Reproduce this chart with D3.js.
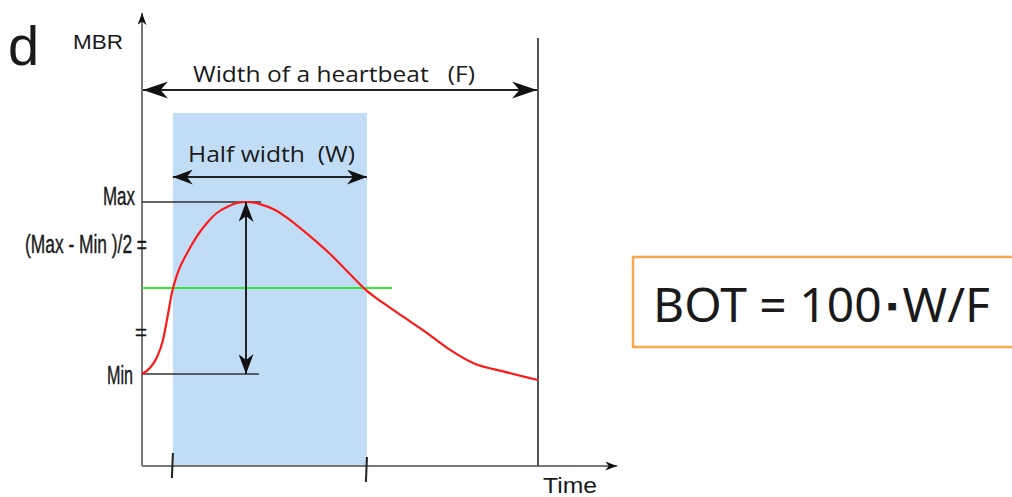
<!DOCTYPE html>
<html>
<head>
  <meta http-equiv="Content-Type" content="text/html; charset=UTF-8">
  <script src="https://d3js.org/d3.v7.min.js"></script>
  <style>
    body { margin:0; background:#fff; }
    svg { display:block; }
  </style>
</head>
<body>
  <svg width="1012" height="497"></svg>
  <script>
    // one heartbeat: time as fraction of the beat, MBR normalised (Min = 0, Max = 1)
    var beatTime = [0, 0.020, 0.038, 0.053, 0.063, 0.076, 0.091, 0.114, 0.139, 0.164, 0.189, 0.215, 0.240, 0.265,
                    0.298, 0.336, 0.374, 0.424, 0.475, 0.525, 0.568, 0.609, 0.664, 0.720, 0.778, 0.836, 0.917, 1.0];
    var beatMBR  = [0, 0.035, 0.099, 0.198, 0.314, 0.477, 0.593, 0.703, 0.802, 0.878, 0.936, 0.971, 0.994, 1.0,
                    0.988, 0.953, 0.895, 0.802, 0.698, 0.581, 0.483, 0.413, 0.326, 0.238, 0.140, 0.064, 0.012, -0.035];

    var halfStart = 0.078, halfEnd = 0.568;     // where the curve crosses the half level
    var beatEnd = 1.0;
    var mbrMin = 0, mbrMax = 1, mbrHalf = 0.5;
    var yLabels = ["Max", "(Max - Min )/2 =", "=", "Min"];

    var svg = d3.select("svg");

    var x = d3.scaleLinear().domain([0, 1]).range([142, 538]);
    var y = d3.scaleLinear().domain([0, 1]).range([374, 202]);

    var axisColor = "#777";

    // markers
    var defs = svg.append("defs");
    function marker(id, len, wid) {
      defs.append("marker")
          .attr("id", id)
          .attr("viewBox", "0 0 " + len + " " + wid)
          .attr("refX", len).attr("refY", wid / 2)
          .attr("markerWidth", len).attr("markerHeight", wid)
          .attr("markerUnits", "userSpaceOnUse")
          .attr("orient", "auto-start-reverse")
        .append("path")
          .attr("d", "M0,0L" + len + "," + (wid / 2) + "L0," + wid + "L" + (len * 0.3) + "," + (wid / 2) + "Z")
          .attr("fill", "#111");
    }
    marker("bigHead", 25, 17);
    marker("midHead", 20, 15);
    marker("axHead", 12, 9);

    // half width band
    svg.append("rect")
        .attr("x", x(halfStart)).attr("y", 113)
        .attr("width", x(halfEnd) - x(halfStart))
        .attr("height", 466 - 113)
        .attr("fill", "#c1ddf6");

    // axes
    svg.append("line")
        .attr("x1", x(0)).attr("x2", x(1.2))
        .attr("y1", 466).attr("y2", 466)
        .attr("stroke", axisColor).attr("stroke-width", 2)
        .attr("marker-end", "url(#axHead)");
    svg.append("line")
        .attr("x1", x(0)).attr("x2", x(0))
        .attr("y1", 466).attr("y2", 13)
        .attr("stroke", axisColor).attr("stroke-width", 2)
        .attr("marker-end", "url(#axHead)");

    // end of the beat
    svg.append("line")
        .attr("x1", x(beatEnd)).attr("x2", x(beatEnd))
        .attr("y1", 38).attr("y2", 466)
        .attr("stroke", "#555").attr("stroke-width", 2);

    // ticks under the band edges
    [halfStart, halfEnd].forEach(function(t, i) {
      svg.append("line")
          .attr("x1", x(t)).attr("x2", x(t) - 1)
          .attr("y1", 453 + i * 4).attr("y2", 478 + i * 4)
          .attr("stroke", "#222").attr("stroke-width", 2);
    });

    // Max / Min guide lines
    svg.append("line")
        .attr("x1", x(0)).attr("x2", 261)
        .attr("y1", y(mbrMax)).attr("y2", y(mbrMax))
        .attr("stroke", "#333").attr("stroke-width", 1.5);
    svg.append("line")
        .attr("x1", x(0)).attr("x2", 259)
        .attr("y1", y(mbrMin)).attr("y2", y(mbrMin))
        .attr("stroke", "#333").attr("stroke-width", 1.5);

    // half level
    svg.append("line")
        .attr("x1", x(0)).attr("x2", 392)
        .attr("y1", y(mbrHalf)).attr("y2", y(mbrHalf))
        .attr("stroke", "#33e633").attr("stroke-width", 2);

    // curve
    var pts = beatTime.map(function(t, i) { return [t, beatMBR[i]]; });
    svg.append("path")
        .datum(pts)
        .attr("d", d3.line()
          .x(function(d) { return x(d[0]); })
          .y(function(d) { return y(d[1]); })
          .curve(d3.curveMonotoneX))
        .attr("fill", "none")
        .attr("stroke", "#ff1a1a").attr("stroke-width", 2.2);

    // amplitude arrow
    svg.append("line")
        .attr("x1", 246).attr("x2", 246)
        .attr("y1", y(mbrMin)).attr("y2", y(mbrMax))
        .attr("stroke", "#222").attr("stroke-width", 2)
        .attr("marker-start", "url(#midHead)")
        .attr("marker-end", "url(#midHead)");

    // width arrows
    svg.append("line")
        .attr("x1", x(0) + 1).attr("x2", x(beatEnd) - 1)
        .attr("y1", 90).attr("y2", 90)
        .attr("stroke", "#222").attr("stroke-width", 2)
        .attr("marker-start", "url(#bigHead)")
        .attr("marker-end", "url(#bigHead)");
    svg.append("line")
        .attr("x1", x(halfStart)).attr("x2", x(halfEnd))
        .attr("y1", 177).attr("y2", 177)
        .attr("stroke", "#222").attr("stroke-width", 2)
        .attr("marker-start", "url(#midHead)")
        .attr("marker-end", "url(#midHead)");

    // texts
    function txt(s, px, py, size, family, len, anchor) {
      var t = svg.append("text")
          .attr("x", px).attr("y", py)
          .attr("font-family", family)
          .attr("font-size", size)
          .attr("fill", "#1a1a1a")
          .attr("text-anchor", anchor || "start")
          .text(s);
      if (len) t.attr("textLength", len).attr("lengthAdjust", "spacingAndGlyphs");
      return t;
    }
    txt("d", 8, 65, 56, "Liberation Sans, Arial, sans-serif");
    txt("MBR", 73, 49, 21, "Liberation Sans, Arial, sans-serif", 50);
    txt("Time", 543, 493, 22, "Liberation Sans, Arial, sans-serif", 54);
    txt("Width of a heartbeat\u00a0\u00a0\u00a0(F)", 193, 82, 22, "Open Sans, sans-serif", 282);
    txt("Half width\u00a0\u00a0(W)", 188, 162, 22, "Open Sans, sans-serif", 167);

    var narrow = "Liberation Sans Narrow, Liberation Sans, sans-serif";
    txt(yLabels[0], 103, 205, 25, narrow, 32).attr("stroke", "#1a1a1a").attr("stroke-width", 0.4);
    txt(yLabels[1], 25, 253, 25, narrow, 122).attr("stroke", "#1a1a1a").attr("stroke-width", 0.4);
    txt(yLabels[2], 135, 340, 22, narrow, 12).attr("stroke", "#1a1a1a").attr("stroke-width", 0.4);
    txt(yLabels[3], 107, 384, 25, narrow, 26).attr("stroke", "#1a1a1a").attr("stroke-width", 0.4);

    // formula box
    svg.append("rect")
        .attr("x", 633).attr("y", 257)
        .attr("width", 400).attr("height", 90)
        .attr("fill", "#fff")
        .attr("stroke", "#f7a84a").attr("stroke-width", 2.5);
    var bot = svg.append("text")
        .attr("x", 653).attr("y", 322)
        .attr("font-family", "Noto Sans, sans-serif")
        .attr("font-size", 47)
        .attr("fill", "#1a1a1a")
        .attr("textLength", 337).attr("lengthAdjust", "spacingAndGlyphs");
    bot.append("tspan").text("BOT = 100");
    bot.append("tspan").attr("font-size", 30).attr("dy", -6).text("\u2009\u25aa\u2009");
    bot.append("tspan").attr("dy", 6).text("W/F");
  </script>
</body>
</html>
